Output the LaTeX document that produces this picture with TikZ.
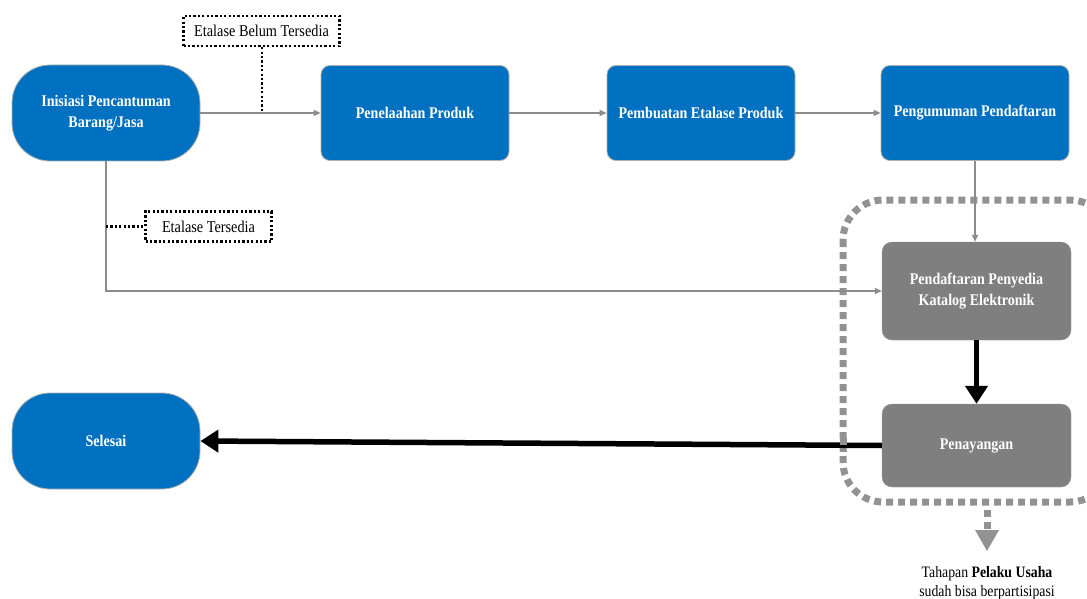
\documentclass[tikz,border=0pt]{standalone}
\usepackage{fontspec}
\usepackage{graphicx}
\setmainfont{Liberation Serif}
\usetikzlibrary{arrows.meta,calc}
\definecolor{blu}{HTML}{0070C0}
\definecolor{gry}{HTML}{7F7F7F}
\definecolor{lin}{HTML}{8C8C8C}
\newcommand\vst[1]{\scalebox{1.02}[1.18]{#1}}
\begin{document}
\begin{tikzpicture}[x=1pt,y=-1pt,
  bluebox/.style={draw=lin!70,line width=0.8pt,fill=blu,rounded corners=9pt,minimum width=188pt,minimum height=95pt,text=white,font=\fontsize{13.8}{17}\selectfont\bfseries,align=center,inner sep=0pt},
  stadium/.style={bluebox,rounded corners=38pt,minimum height=96pt},
  graybox/.style={draw=gry!80,fill=gry,rounded corners=10pt,minimum width=189pt,text=white,font=\fontsize{13.8}{17}\selectfont\bfseries,align=center,inner sep=0pt},
  dotbox/.style={draw=black,line width=2.6pt,dash pattern=on 2.2pt off 2.2pt,fill=white,font=\fontsize{14}{17}\selectfont,inner sep=0pt,minimum height=30pt},
  thin/.style={draw=lin,line width=1.3pt,-{Triangle[length=7pt,width=6pt]}},
  thick/.style={draw=black,line width=5.5pt,-{Triangle[length=18pt,width=22pt]}},
  dotline/.style={draw=black,line width=2.6pt,dash pattern=on 2.2pt off 2.2pt}]
\useasboundingbox (0,0) rectangle (1087,599);
\clip (0,0) rectangle (1087,599);
% group
\draw[gry!85,line width=7pt,dash pattern=on 7pt off 5pt,rounded corners=40pt] (843,200) rectangle (1110,502);
% nodes
\node[stadium] (ini) at (106,113) {\vst{\begin{tabular}{@{}c@{}}Inisiasi Pencantuman\\Barang/Jasa\end{tabular}}};
\node[bluebox] (tel) at (415,113) {\vst{Penelaahan Produk}};
\node[bluebox] (etl) at (701,113) {\vst{Pembuatan Etalase Produk}};
\node[bluebox] (umu) at (975,113) {\vst{Pengumuman Pendaftaran}};
\node[graybox,minimum height=98pt] (pen) at (976.5,291) {\vst{\begin{tabular}{@{}c@{}}Pendaftaran Penyedia\\Katalog Elektronik\end{tabular}}};
\node[graybox,minimum height=83pt] (tay) at (976.5,445.5) {\vst{Penayangan}};
\node[stadium] (sel) at (106,441) {\vst{Selesai}};
\node[dotbox,minimum width=156pt] (belum) at (261.5,31) {\vst{Etalase Belum Tersedia}};
\node[dotbox,minimum width=126pt] (sedia) at (208.5,226.5) {\vst{Etalase Tersedia}};
\coordinate (jb) at (262,113);
\coordinate (js) at (106,226.5);
% connectors
\draw[thin] (ini.east) -- (tel.west);
\draw[thin] (tel.east) -- (etl.west);
\draw[thin] (etl.east) -- (umu.west);
\draw[thin] (umu.south) -- (umu.south |- pen.north);
\draw[thin] (ini.south) |- (pen.west);
\draw[dotline] (belum.south -| jb) -- (jb);
\draw[dotline] (js) -- (sedia.west);
\draw[thick] (pen.south) -- (tay.north);
\draw[thick] (tay.west) -- (sel.east);
% group dash over thick arrow
\draw[gry!85,line width=7pt,dash pattern=on 7pt off 5pt] (843,438) -- (843,452);
% outgoing pointer
\node[inner sep=0pt,font=\fontsize{13.5}{18}\selectfont,align=center] (note) at (987,583) {\vst{Tahapan \textbf{Pelaku Usaha}}\\[1pt]\vst{sudah bisa berpartisipasi}};
\coordinate (ptop) at (987,510);
\draw[gry!85,line width=7pt,dash pattern=on 7pt off 5pt] (ptop) -- (987,530);
\fill[gry!85] (975,530) -- (999,530) -- (987,551) -- cycle;
\end{tikzpicture}
\end{document}
